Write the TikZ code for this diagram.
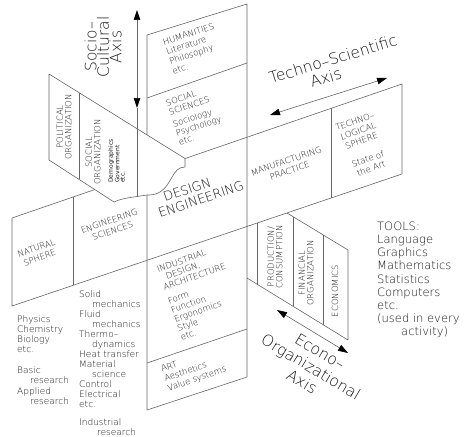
\documentclass[tikz,border=0pt]{standalone}
\usepackage{fontspec}
\usetikzlibrary{arrows.meta}
% thin stroke-like lettering; fall back to the regular face if the light one is missing
\IfFontExistsTF{DejaVu Sans ExtraLight}
  {\newfontfamily\cadfont{DejaVu Sans ExtraLight}\colorlet{cadtext}{black!90}}
  {\newfontfamily\cadfont{DejaVu Sans}\colorlet{cadtext}{black!65}}
\newfontfamily\cadsmall{DejaVu Sans}
\newcommand\cadsize[2]{\fontsize{#1}{#2}\selectfont}

\begin{document}
\begin{tikzpicture}[x=1pt,y=-1pt,
  edge/.style={draw=black!60, line width=0.6pt, line join=round},
  axisarrow/.style={draw=black!60, line width=0.6pt,
    {Triangle[length=10pt,width=6.5pt,color=black]}-{Triangle[length=10pt,width=6.5pt,color=black]}},
  txt/.style={inner sep=0pt, text=cadtext, font=\cadfont\cadsize{8.5}{10.2}},
  axislabel/.style={inner sep=0pt, text=cadtext, font=\cadfont\cadsize{15.5}{12.5}},
  biglabel/.style={inner sep=0pt, text=cadtext, font=\cadfont\cadsize{12.8}{15}},
  listtext/.style={inner sep=0pt, text=cadtext, align=left, anchor=north west},
]
\useasboundingbox (0,0) rectangle (476,436);
\fill[white] (0,0) rectangle (476,436);

% ---------- techno-scientific arm (horizontal band) ----------
\coordinate (armTL) at (12,218);
\coordinate (armTR) at (402,84);
\coordinate (armBL) at (12,306);
\coordinate (armBR) at (402,174);
\draw[edge] (armTL) -- (armTR) -- (armBR) -- (armBL) -- cycle;
\draw[edge] (73,197) -- (73,285.4);
\draw[edge] (331,108.4) -- (331,198);

% ---------- socio-cultural column ----------
\coordinate (colTL) at (147,35);
\coordinate (colTR) at (247,4);
\coordinate (colBL) at (147,410);
\coordinate (colBR) at (247,377);
\draw[edge] (colTL) -- (colTR) -- (colBR) -- (colBL) -- cycle;
\draw[edge] (147,98) -- (247,63);
\draw[edge] (147,363) -- (247,329);

% ---------- rear econo-organizational plane (cut away) ----------
\coordinate (polTL) at (49,74);
\coordinate (polTR) at (185,158.5);
\coordinate (polBL) at (49,160);
\filldraw[edge, fill=white] (polTL) -- (polTR) -- (185,167)
  .. controls (172,167) and (172,185) .. (160,192)
  .. controls (155,195) and (151,195) .. (147,195)
  -- (137,196.5)
  .. controls (127,198) and (120,199) .. (114,202)
  -- (polBL) -- cycle;
\draw[edge] (79,92.6) -- (79,179.4);

% ---------- front econo-organizational plane ----------
\coordinate (ecoTL) at (287,213);
\coordinate (ecoTR) at (348,250);
\coordinate (ecoBR) at (348,340);
\coordinate (ecoBL) at (247,278);
\draw[edge] (ecoTL) -- (ecoTR) -- (ecoBR) -- (ecoBL);
\draw[edge] (257,223.1) -- (257,284.1);
\draw[edge] (293,216.6) -- (293,306.2);
\draw[edge] (323,234.8) -- (323,324.7);

% ---------- axis arrows ----------
\coordinate (socA) at (137,10);
\coordinate (socB) at (137,108);
\coordinate (socC) at (137,196.5);
\draw[axisarrow] (socA) -- (socB);
\draw[edge] (socB) -- (socC);
\coordinate (tecA) at (270,115);
\coordinate (tecB) at (387,78);
\draw[axisarrow] (tecA) -- (tecB);
\coordinate (ecnA) at (277,310);
\coordinate (ecnB) at (348,353);
\draw[axisarrow] (ecnA) -- (ecnB);

% ---------- axis labels ----------
\node[axislabel, rotate=90, align=center] (socio) at (103,47) {Socio–\\Cultural\\Axis};
\node[axislabel, rotate=17, anchor=base west] (techno) at (271,84) {Techno–Scientific};
\node[axislabel, rotate=17, anchor=base west] (technoaxis) at (312,88) {Axis};
\node[axislabel, rotate=-31, align=center, font=\cadfont\cadsize{15.5}{17.5}] (econo) at (311,367) {Econo–\\Organizational\\Axis};

% ---------- central field ----------
\node[biglabel, rotate=18.5, anchor=base west] (design) at (165,202) {DESIGN};
\node[biglabel, rotate=18.5, anchor=base west] (engineering) at (160,218) {ENGINEERING};

% ---------- column fields ----------
\node[txt, rotate=18, anchor=north west, align=left] (humanities) at (162,39)
  {HUMANITIES\\Literature\\Philosophy\\etc.};
\node[txt, rotate=18, anchor=north west, align=left, font=\cadfont\cadsize{8.5}{9.6}] (socsci) at (165,100)
  {SOCIAL\\SCIENCES\\[3pt]Sociology\\Psychology\\etc.};
\node[txt, rotate=19, anchor=north west, align=left, font=\cadfont\cadsize{8.5}{9.6}] (industrial) at (156,266)
  {INDUSTRIAL\\\hspace*{6pt}DESIGN,\\ARCHITECTURE\\[5pt]Form\\Function\\Ergonomics\\Style\\etc.};
\node[txt, rotate=19, anchor=north west, align=left] (art) at (160,366)
  {ART\\Aesthetics\\Value systems};

% ---------- arm fields ----------
\node[txt, rotate=19, align=center] (natural) at (38,253) {NATURAL\\SPHERE};
\node[txt, rotate=19, align=center] (engsci) at (111,226) {ENGINEERING\\SCIENCES};
\node[txt, rotate=19, align=center] (manufacturing) at (288,166) {MANUFACTURING\\PRACTICE};
\node[txt, rotate=19, align=center] (technosphere) at (363,145)
  {TECHNO–\\LOGICAL\\SPHERE\\[9pt]State of\\the Art};

% ---------- econo-organizational fields ----------
\node[txt, rotate=90, align=center, font=\cadfont\cadsize{8.5}{8.6}] (political) at (64,127) {POLITICAL\\ORGANIZATION};
\node[txt, rotate=90, align=center, font=\cadfont\cadsize{8.5}{8.6}] (socorg) at (93,152) {SOCIAL\\ORGANIZATION};
\node[txt, rotate=90, anchor=north west, align=left, font=\cadsmall\cadsize{6}{5.2}] (demog) at (108,183)
  {Demographics\\Government\\etc.};
\node[txt, rotate=90, align=center, font=\cadfont\cadsize{8.5}{8.6}] (production) at (275,257) {PRODUCTION/\\CONSUMPTION};
\node[txt, rotate=90, align=center, font=\cadfont\cadsize{8.5}{8.6}] (financial) at (306,273) {FINANCIAL\\ORGANIZATION};
\node[txt, rotate=90, align=center] (economics) at (335,291) {ECONOMICS};

% ---------- lists ----------
\node[listtext, font=\cadfont\cadsize{11.5}{13.2}] (tools) at (377,221.5)
  {TOOLS:\\Language\\Graphics\\Mathematics\\Statistics\\Computers\\etc.\\(used in every\\\hspace*{24pt}activity)};
\node[listtext, font=\cadfont\cadsize{9}{10.3}] (sciences) at (17,315)
  {Physics\\Chemistry\\Biology\\etc.\\[10.3pt]Basic\\\hspace*{13pt}research\\Applied\\\hspace*{13pt}research};
\node[listtext, font=\cadfont\cadsize{9}{10}] (engtopics) at (79,290)
  {Solid\\\hspace*{13pt}mechanics\\Fluid\\\hspace*{13pt}mechanics\\Thermo–\\\hspace*{13pt}dynamics\\Heat transfer\\Material\\\hspace*{13pt}science\\Control\\Electrical\\etc.};
\node[listtext, font=\cadfont\cadsize{9}{10}] (indresearch) at (79,418)
  {Industrial\\\hspace*{18pt}research};
\end{tikzpicture}
\end{document}
